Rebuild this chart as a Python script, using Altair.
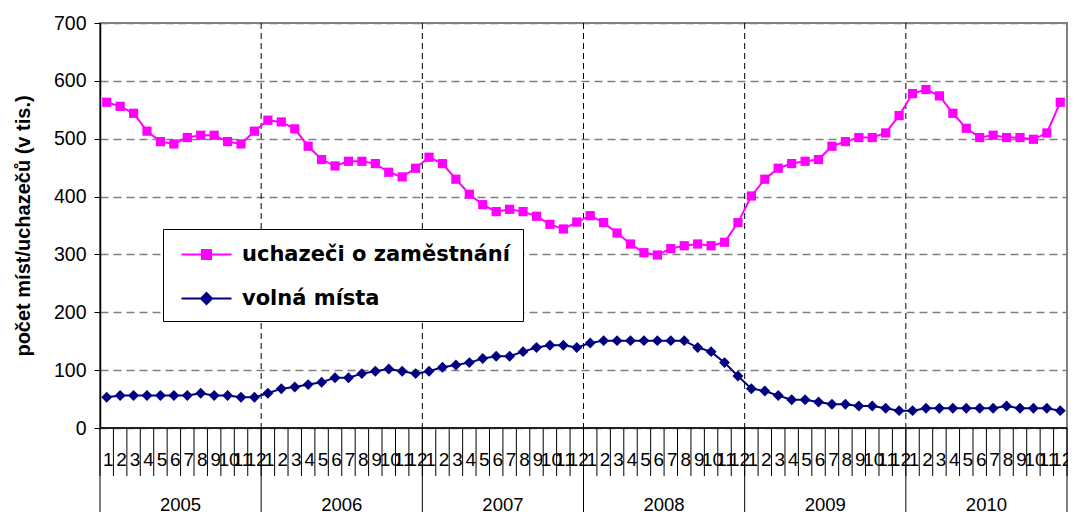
import altair as alt
import pandas as pd

years = ["2005", "2006", "2007", "2008", "2009", "2010"]
months = [str(m) for m in range(1, 13)]
series_names = ["uchazeči o zaměstnání", "volná místa"]

uchazeci = [
    563, 556, 544, 513, 495, 491, 502, 506, 506, 495, 491, 513,
    532, 529, 517, 487, 464, 453, 461, 461, 457, 442, 434, 449,
    468, 457, 430, 404, 386, 374, 378, 374, 366, 352, 344, 356,
    367, 355, 337, 318, 303, 299, 310, 315, 318, 315, 321, 355,
    401, 430, 449, 457, 461, 464, 487, 495, 502, 502, 510, 540,
    578, 585, 574, 544, 518, 502, 506, 502, 502, 499, 510, 563,
]
volna = [
    53, 56, 56, 56, 56, 56, 56, 60, 56, 56, 53, 53,
    60, 68, 71, 75, 79, 87, 87, 94, 98, 102, 98, 94,
    98, 105, 109, 113, 120, 124, 124, 132, 139, 143, 143, 139,
    147, 151, 151, 151, 151, 151, 151, 151, 139, 132, 113, 90,
    68, 64, 56, 49, 49, 45, 41, 41, 38, 38, 34, 30,
    30, 34, 34, 34, 34, 34, 34, 38, 34, 34, 34, 30,
]

FONT = "Liberation Sans"
W, H = 967, 405
n = len(years) * len(months)

rows = []
for name, vals in zip(series_names, [uchazeci, volna]):
    for i, v in enumerate(vals):
        rows.append({"pos": i + 0.5, "series": name, "value": v})
df = pd.DataFrame(rows)

month_df = pd.DataFrame({"pos": [i + 0.5 for i in range(n)],
                         "label": [months[i % 12] for i in range(n)]})
year_df = pd.DataFrame({"pos": [12 * k + 6 for k in range(len(years))], "label": years})
mtick_df = pd.DataFrame({"pos": list(range(n + 1))})
ytick_df = pd.DataFrame({"pos": [12 * k for k in range(len(years) + 1)]})
vgrid_df = pd.DataFrame({"pos": [12 * k for k in range(1, len(years))]})

xsc = alt.Scale(domain=[0, n], nice=False, zero=False)
ysc = alt.Scale(domain=[0, 700], nice=False)
colors = ["#FF00FF", "#000080"]
csc = alt.Scale(domain=series_names, range=colors)

sym_sq = "M-2,0H2M-0.36,-0.36H0.36V0.36H-0.36Z"
sym_di = "M-2,0H2M0,-0.44L0.44,0L0,0.44L-0.44,0Z"

legend = alt.Legend(
    title=None, orient="none", legendX=63, legendY=206,
    fillColor="white", strokeColor="black", padding=12,
    labelFont="DejaVu Sans", labelFontWeight="bold", labelFontSize=21, labelColor="black",
    labelLimit=500, symbolSize=625, symbolStrokeWidth=2, symbolOpacity=1,
    labelOffset=22, symbolOffset=18, rowPadding=20,
)

yaxis = alt.Axis(
    values=list(range(0, 701, 100)), grid=True, gridDash=[8, 5], gridColor="#808080",
    gridWidth=1.5, domainColor="black", domainWidth=1.5, tickColor="black", tickSize=6,
    labelFont=FONT, labelFontSize=19.5, labelColor="black", labelPadding=8,
    title="počet míst/uchazečů (v tis.)", titleFont=FONT, titleFontSize=20,
    titleFontWeight="bold", titleColor="black", titlePadding=20,
)

X = alt.X("pos:Q", scale=xsc, axis=None)
Y = alt.Y("value:Q", scale=ysc)
base = alt.Chart(df)

layers_series = []
for name, col, shp, sz in zip(series_names, colors, ["square", "diamond"], [85, 120]):
    sub = base.transform_filter(alt.datum.series == name)
    layers_series.append(sub.mark_line(strokeWidth=2, color=col).encode(x=X, y=alt.Y("value:Q", scale=ysc, axis=yaxis)))
    layers_series.append(sub.mark_point(shape=shp, filled=True, opacity=1, size=sz, color=col).encode(x=X, y=Y))

# legend-only layer: no rows are drawn, entries come from the fixed scale domain
leg = base.transform_filter("false").mark_point(filled=True, opacity=1).encode(
    x=X, y=Y,
    color=alt.Color("series:N", scale=csc, legend=legend),
    stroke=alt.Stroke("series:N", scale=csc, legend=legend),
    shape=alt.Shape("series:N", scale=alt.Scale(domain=series_names, range=[sym_sq, sym_di]), legend=legend),
)

vgrid = alt.Chart(vgrid_df).mark_rule(color="black", strokeWidth=1, strokeDash=[6, 4]).encode(x=X)
baseline = alt.Chart(pd.DataFrame({"v": [0]})).mark_rule(color="black", strokeWidth=1.5).encode(
    y=alt.Y("v:Q", scale=ysc))
mticks = alt.Chart(mtick_df).mark_rule(color="black", strokeWidth=1).encode(
    x=X, y=alt.value(H), y2=alt.value(H + 48))
yticks = alt.Chart(ytick_df).mark_rule(color="black", strokeWidth=1).encode(
    x=X, y=alt.value(H), y2=alt.value(H + 84))
mlabels = alt.Chart(month_df).mark_text(font=FONT, fontSize=19, color="black", baseline="middle", dx=1.5).encode(
    x=X, y=alt.value(H + 32), text="label:N")
ylabels = alt.Chart(year_df).mark_text(font=FONT, fontSize=18.5, color="black", baseline="alphabetic").encode(
    x=X, y=alt.value(H + 83), text="label:N")

chart = alt.layer(vgrid, baseline, mticks, yticks, mlabels, ylabels, *layers_series, leg).properties(
    width=W, height=H,
    autosize=alt.AutoSizeParams(type="none"),
    padding={"left": 92, "top": 15, "right": 1, "bottom": 84},
    background="white",
).configure_view(stroke="#808080", strokeWidth=2)

chart.save("out.html", embed_options={"renderer": "svg", "actions": False})
